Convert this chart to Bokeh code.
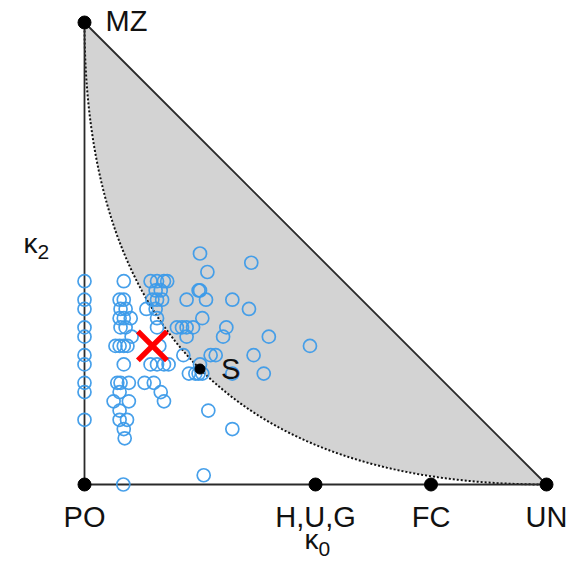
import numpy as np
from bokeh.plotting import figure
from bokeh.models import Range1d
from bokeh.core.properties import value
from bokeh.embed import file_html
from bokeh.resources import INLINE

# Estimated IBD coefficients (k0, k2) for the sample pairs
k0_vals = [0, 0, 0, 0, 0, 0, 0, 0, 0, 0,
           0.085, 0.076, 0.085, 0.078, 0.089, 0.076, 0.085, 0.100, 0.078, 0.089,
           0.102, 0.067, 0.076, 0.085, 0.093, 0.085, 0.071, 0.078, 0.096, 0.076,
           0.063, 0.096, 0.076, 0.076, 0.092, 0.085, 0.087, 0.084,
           0.143, 0.157, 0.172, 0.179, 0.154, 0.165, 0.147, 0.157, 0.168, 0.134,
           0.154, 0.157, 0.157, 0.162, 0.143, 0.157, 0.172, 0.182, 0.130, 0.150,
           0.165, 0.172,
           0.250, 0.361, 0.266, 0.247, 0.250, 0.221, 0.263, 0.320, 0.356, 0.255,
           0.200, 0.211, 0.221, 0.235, 0.307, 0.300, 0.221, 0.399, 0.488, 0.214,
           0.273, 0.284, 0.366, 0.250, 0.226, 0.240, 0.247, 0.255, 0.320, 0.388,
           0.268, 0.320, 0.258]
k2_vals = [0.44, 0.40, 0.38, 0.34, 0.32, 0.28, 0.26, 0.22, 0.20, 0.14,
           0.44, 0.40, 0.40, 0.38, 0.38, 0.36, 0.36, 0.36, 0.34, 0.34,
           0.32, 0.30, 0.30, 0.30, 0.30, 0.26, 0.22, 0.22, 0.22, 0.20,
           0.18, 0.18, 0.16, 0.14, 0.14, 0.12, 0.10, 0.00,
           0.44, 0.44, 0.44, 0.44, 0.42, 0.42, 0.40, 0.40, 0.40, 0.38,
           0.38, 0.36, 0.34, 0.30, 0.26, 0.26, 0.26, 0.26, 0.22, 0.22,
           0.20, 0.18,
           0.50, 0.48, 0.46, 0.42, 0.42, 0.40, 0.40, 0.40, 0.38, 0.36,
           0.34, 0.34, 0.34, 0.34, 0.34, 0.32, 0.32, 0.32, 0.30, 0.28,
           0.28, 0.28, 0.28, 0.26, 0.24, 0.24, 0.24, 0.24, 0.24, 0.24,
           0.16, 0.12, 0.02]

# Reference relationships
ref_labels = ["PO", "H,U,G", "FC", "UN", "MZ", "S"]
ref_k0 = [0.0, 0.5, 0.75, 1.0, 0.0, 0.25]
ref_k2 = [0.0, 0.0, 0.0, 0.0, 1.0, 0.25]

# Estimated relationship (red cross)
est_k0 = [0.147]
est_k2 = [0.30]

W, H = 570, 559
ppu = 462.0
x0_px, y0_px = 84, 484
xr = Range1d(-x0_px / ppu, (W - x0_px) / ppu)
yr = Range1d(-(H - y0_px) / ppu, y0_px / ppu)

p = figure(width=W, height=H, x_range=xr, y_range=yr, output_backend="svg",
           toolbar_location=None, min_border=0)
p.axis.visible = False
p.grid.visible = False
p.outline_line_color = None
p.background_fill_color = "white"

# boundary curve sqrt(k0) + sqrt(k2) = 1
t = np.linspace(0, 1, 200)
cx = t ** 2
cy = (1 - t) ** 2
p.patch(list(cx) + [1.0], list(cy) + [0.0], fill_color="#d3d3d3", line_color=None)
p.line(cx, cy, line_color="#111111", line_dash="2 2", line_width=2)

# triangle
p.line([0, 0, 1, 0], [1, 0, 0, 1], line_color="#2a2a2a", line_width=1.8)

# sample points
p.scatter(k0_vals, k2_vals, marker="circle", size=13, fill_color=None,
          line_color="#3d9be9", line_width=1.7, line_alpha=0.95)

# estimate
p.scatter(est_k0, est_k2, marker="x", size=41, line_color="#ff0000", line_width=5.5)

# reference points
p.scatter(ref_k0[:5], ref_k2[:5], marker="circle", size=13, fill_color="black", line_color="black")
p.scatter(ref_k0[5:], ref_k2[5:], marker="circle", size=10, fill_color="black", line_color="black")

font = value("Liberation Sans")
fs = "29px"
# bottom labels
p.text(ref_k0[:4], ref_k2[:4], text=ref_labels[:4], text_font=font, text_font_size=fs,
       text_align="center", text_baseline="middle", y_offset=32, text_color="#111111")
# MZ
p.text([ref_k0[4]], [ref_k2[4]], text=[ref_labels[4]], text_font=font, text_font_size=fs,
       text_align="left", text_baseline="middle", x_offset=21, y_offset=-2, text_color="#111111")
# S
p.text([ref_k0[5]], [ref_k2[5]], text=[ref_labels[5]], text_font=font, text_font_size=fs,
       text_align="left", text_baseline="middle", x_offset=21, y_offset=0, text_color="#111111")

# axis titles
p.text([0.5], [0.0], text=["κ"], text_font=font, text_font_size="28px",
       text_align="right", text_baseline="middle", x_offset=3, y_offset=55, text_color="#111111")
p.text([0.5], [0.0], text=["0"], text_font=font, text_font_size="21px",
       text_align="left", text_baseline="middle", x_offset=3, y_offset=64, text_color="#111111")
p.text([0.0], [0.5], text=["κ"], text_font=font, text_font_size="28px",
       text_align="right", text_baseline="middle", x_offset=-47, y_offset=-10, text_color="#111111")
p.text([0.0], [0.5], text=["2"], text_font=font, text_font_size="21px",
       text_align="left", text_baseline="middle", x_offset=-47, y_offset=-2, text_color="#111111")

open("out.html", "w").write(file_html(p, INLINE))
